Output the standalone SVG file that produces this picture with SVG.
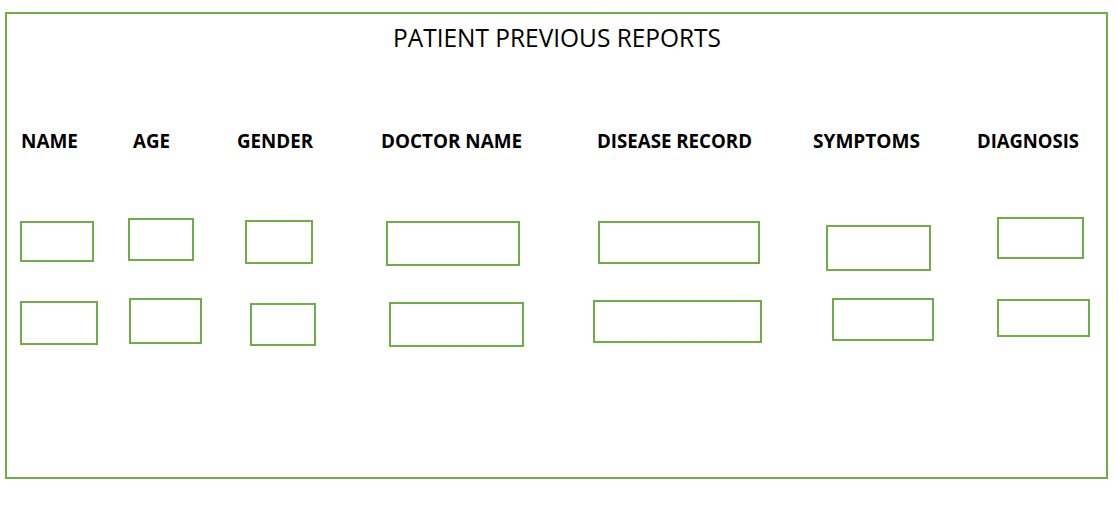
<svg xmlns="http://www.w3.org/2000/svg" width="1118" height="505" viewBox="0 0 1118 505">
<style>
.box{fill:none;stroke:#70AD47;stroke-width:2}
.lbl{font-family:"Open Sans","Liberation Sans",sans-serif;font-weight:bold;font-size:20px;fill:#000}
.ttl{font-family:"Open Sans","Liberation Sans",sans-serif;font-size:25px;fill:#000}
</style>
<rect width="1118" height="505" fill="#fff"/>
<g id="frame"><rect class="box" x="6" y="13" width="1101" height="465"/></g>
<g id="title"><text class="ttl" x="393" y="47" textLength="328" lengthAdjust="spacingAndGlyphs">PATIENT PREVIOUS REPORTS</text></g>
<g id="col-name">
<text class="lbl" x="21" y="148" textLength="57" lengthAdjust="spacingAndGlyphs">NAME</text>
<rect class="box" x="21" y="222" width="72" height="39"/>
<rect class="box" x="21" y="302" width="76" height="42"/>
</g>
<g id="col-age">
<text class="lbl" x="133" y="148" textLength="37" lengthAdjust="spacingAndGlyphs">AGE</text>
<rect class="box" x="129" y="219" width="64" height="41"/>
<rect class="box" x="130" y="299" width="71" height="44"/>
</g>
<g id="col-gender">
<text class="lbl" x="237" y="148" textLength="76" lengthAdjust="spacingAndGlyphs">GENDER</text>
<rect class="box" x="246" y="221" width="66" height="42"/>
<rect class="box" x="251" y="304" width="64" height="41"/>
</g>
<g id="col-doctor">
<text class="lbl" x="381" y="148" textLength="141" lengthAdjust="spacingAndGlyphs">DOCTOR NAME</text>
<rect class="box" x="387" y="222" width="132" height="43"/>
<rect class="box" x="390" y="303" width="133" height="43"/>
</g>
<g id="col-disease">
<text class="lbl" x="597" y="148" textLength="155" lengthAdjust="spacingAndGlyphs">DISEASE RECORD</text>
<rect class="box" x="599" y="222" width="160" height="41"/>
<rect class="box" x="594" y="301" width="167" height="41"/>
</g>
<g id="col-symptoms">
<text class="lbl" x="813" y="148" textLength="107" lengthAdjust="spacingAndGlyphs">SYMPTOMS</text>
<rect class="box" x="827" y="226" width="103" height="44"/>
<rect class="box" x="833" y="299" width="100" height="41"/>
</g>
<g id="col-diagnosis">
<text class="lbl" x="977" y="148" textLength="102" lengthAdjust="spacingAndGlyphs">DIAGNOSIS</text>
<rect class="box" x="998" y="218" width="85" height="40"/>
<rect class="box" x="998" y="300" width="91" height="36"/>
</g>
<g id="connectors"/>
</svg>
